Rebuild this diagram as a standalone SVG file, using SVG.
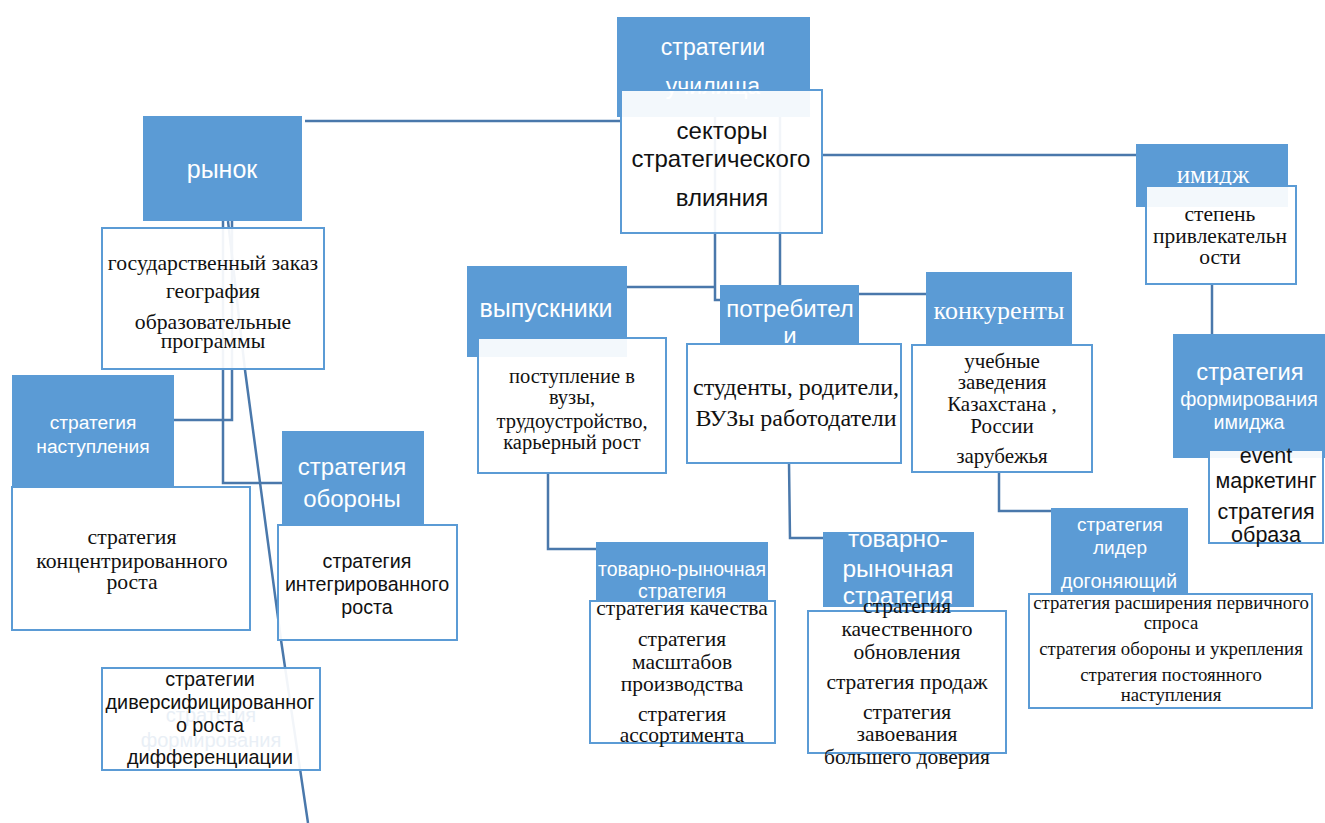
<svg xmlns="http://www.w3.org/2000/svg" width="1325" height="823" viewBox="0 0 1325 823">
<style>
.blue{fill:#5b9bd5}
.box{fill:#fff;fill-opacity:0.93;stroke:#5b9bd5;stroke-width:2}
.conn{stroke:#4a78ab;stroke-width:2.5;fill:none}
.wt{fill:#fff;font-family:"Liberation Sans",Arial,sans-serif;text-anchor:middle}
.ws{fill:#fff;font-family:"Liberation Serif","Times New Roman",serif;text-anchor:middle}
.bs{fill:#111;font-family:"Liberation Sans",Arial,sans-serif;text-anchor:middle}
.st{fill:#111;font-family:"Liberation Serif","Times New Roman",serif;text-anchor:middle}
.ghost{fill:#e9eff6;font-family:"Liberation Sans",Arial,sans-serif;text-anchor:middle}
</style>
<rect width="1325" height="823" fill="#fff"/>
<g id="connectors">
<polyline class="conn" points="305,121 621,121"/>
<polyline class="conn" points="822,155 1136,155"/>
<polyline class="conn" points="715,100 715,300 721,300"/>
<polyline class="conn" points="627,287 715,287"/>
<polyline class="conn" points="780,100 780,285"/>
<polyline class="conn" points="859,294 926,294"/>
<polyline class="conn" points="232,221 232,420 174,420"/>
<polyline class="conn" points="223,221 223,483 282,483"/>
<polyline class="conn" points="228,221 245,370 281,640 308,823"/>
<polyline class="conn" points="548,473 548,549 596,549"/>
<polyline class="conn" points="789,463 790,538 823,538"/>
<polyline class="conn" points="999,472 999,511 1051,511"/>
<polyline class="conn" points="1212,284 1212,334"/>
</g>
<g id="strategii-uchilishcha">
<rect class="blue" x="617" y="17" width="193" height="100"/>
<text class="wt" x="713" y="55" font-size="23">стратегии</text>
<text class="wt" x="713" y="94" font-size="23">училища</text>
</g>
<g id="sektory">
<rect class="box" x="621" y="90" width="201" height="143"/>
<text class="bs" x="722" y="139" font-size="24">секторы</text>
<text class="bs" x="721" y="167" font-size="24">стратегического</text>
<text class="bs" x="722" y="206" font-size="24">влияния</text>
</g>
<g id="rynok">
<rect class="blue" x="143" y="116" width="159" height="105"/>
<text class="wt" x="222" y="178" font-size="25">рынок</text>
</g>
<g id="rynok-detail">
<rect class="box" x="102" y="228" width="222" height="141"/>
<text class="st" x="213" y="270" font-size="21.7">государственный заказ</text>
<text class="st" x="213" y="298" font-size="21.7">география</text>
<text class="st" x="213" y="329" font-size="21.7">образовательные</text>
<text class="st" x="213" y="348" font-size="21.7">программы</text>
</g>
<g id="nastupleniya">
<rect class="blue" x="12" y="375" width="162" height="113"/>
<text class="wt" x="93" y="429" font-size="19.2">стратегия</text>
<text class="wt" x="93" y="453" font-size="19.2">наступления</text>
</g>
<g id="koncentr">
<rect class="box" x="12" y="487" width="238" height="143"/>
<text class="st" x="132" y="544" font-size="21.7">стратегия</text>
<text class="st" x="132" y="568" font-size="21.7">концентрированного</text>
<text class="st" x="132" y="589" font-size="21.7">роста</text>
</g>
<g id="oborony">
<rect class="blue" x="282" y="431" width="142" height="94"/>
<text class="wt" x="352" y="475" font-size="24">стратегия</text>
<text class="wt" x="352" y="507" font-size="24">обороны</text>
</g>
<g id="integr">
<rect class="box" x="278" y="525" width="179" height="115"/>
<text class="bs" x="367" y="568" font-size="19.7">стратегия</text>
<text class="bs" x="367" y="591" font-size="19.7">интегрированного</text>
<text class="bs" x="367" y="614" font-size="19.7">роста</text>
</g>
<g id="diversif">
<rect class="box" x="102" y="668" width="218" height="102"/>
<text class="ghost" x="211" y="722" font-size="20">стратегия</text>
<text class="ghost" x="211" y="747" font-size="20">формирования</text>
<text class="bs" x="210" y="686" font-size="19.8">стратегии</text>
<text class="bs" x="210" y="709" font-size="19.8">диверсифицированног</text>
<text class="bs" x="210" y="732" font-size="19.8">о роста</text>
<text class="bs" x="210" y="764" font-size="19.8">дифференциации</text>
</g>
<g id="vypuskniki">
<rect class="blue" x="467" y="266" width="160" height="91"/>
<text class="wt" x="546" y="317" font-size="25">выпускники</text>
</g>
<g id="vypuskniki-detail">
<rect class="box" x="478" y="338" width="188" height="135"/>
<text class="st" x="572" y="383" font-size="20.5">поступление в</text>
<text class="st" x="572" y="404" font-size="20.5">вузы,</text>
<text class="st" x="572" y="428" font-size="20.5">трудоустройство,</text>
<text class="st" x="572" y="449" font-size="20.5">карьерный рост</text>
</g>
<g id="potrebiteli">
<rect class="blue" x="720" y="285" width="139" height="60"/>
<text class="wt" x="790" y="317" font-size="24">потребител</text>
<text class="wt" x="790" y="344" font-size="24">и</text>
</g>
<g id="potrebiteli-detail">
<rect class="box" x="687" y="344" width="214" height="119"/>
<text class="st" x="796" y="395" font-size="24">студенты, родители,</text>
<text class="st" x="796" y="426" font-size="24">ВУЗы работодатели</text>
</g>
<g id="konkurenty">
<rect class="blue" x="926" y="272" width="146" height="73"/>
<text class="ws" x="999" y="319" font-size="26">конкуренты</text>
</g>
<g id="konkurenty-detail">
<rect class="box" x="912" y="345" width="180" height="127"/>
<text class="st" x="1002" y="368" font-size="21">учебные</text>
<text class="st" x="1002" y="389" font-size="21">заведения</text>
<text class="st" x="1002" y="411" font-size="21">Казахстана ,</text>
<text class="st" x="1002" y="433" font-size="21">России</text>
<text class="st" x="1002" y="463" font-size="21">зарубежья</text>
</g>
<g id="imidzh">
<rect class="blue" x="1136" y="144" width="152" height="63"/>
<text class="ws" x="1213" y="183" font-size="25">имидж</text>
</g>
<g id="imidzh-detail">
<rect class="box" x="1146" y="186" width="150" height="98"/>
<text class="st" x="1220" y="221" font-size="21.5">степень</text>
<text class="st" x="1220" y="243" font-size="21.5">привлекательн</text>
<text class="st" x="1220" y="264" font-size="21.5">ости</text>
</g>
<g id="formirovaniya">
<rect class="blue" x="1173" y="334" width="152" height="124"/>
<text class="wt" x="1250" y="380" font-size="23.8">стратегия</text>
<text class="wt" x="1249" y="406" font-size="19.6">формирования</text>
<text class="wt" x="1249" y="429" font-size="19.6">имиджа</text>
</g>
<g id="event">
<rect class="box" x="1209" y="450" width="114" height="93"/>
<text class="bs" x="1266" y="463" font-size="21.5">event</text>
<text class="bs" x="1266" y="488" font-size="21.5">маркетинг</text>
<text class="bs" x="1266" y="519" font-size="21.5">стратегия</text>
<text class="bs" x="1266" y="542" font-size="21.5">образа</text>
</g>
<g id="lider">
<rect class="blue" x="1051" y="508" width="137" height="85"/>
<text class="wt" x="1120" y="531" font-size="19">стратегия</text>
<text class="wt" x="1120" y="554" font-size="19">лидер</text>
<text class="wt" x="1119" y="588" font-size="20">догоняющий</text>
</g>
<g id="lider-detail">
<rect class="box" x="1029" y="594" width="283" height="114"/>
<text class="st" x="1171" y="609" font-size="18.8">стратегия расширения первичного</text>
<text class="st" x="1171" y="629" font-size="18.8">спроса</text>
<text class="st" x="1171" y="655" font-size="18.8">стратегия обороны и укрепления</text>
<text class="st" x="1171" y="681" font-size="18.8">стратегия постоянного</text>
<text class="st" x="1171" y="701" font-size="18.8">наступления</text>
</g>
<g id="tovarno1">
<rect class="blue" x="596" y="542" width="172" height="60"/>
<text class="wt" x="682" y="576" font-size="19.5">товарно-рыночная</text>
<text class="wt" x="682" y="598" font-size="19.5">стратегия</text>
</g>
<g id="tovarno1-detail">
<rect class="box" x="590" y="601" width="185" height="142"/>
<text class="st" x="682" y="615" font-size="21.5">стратегия качества</text>
<text class="st" x="682" y="646" font-size="21.5">стратегия</text>
<text class="st" x="682" y="669" font-size="21.5">масштабов</text>
<text class="st" x="682" y="691" font-size="21.5">производства</text>
<text class="st" x="682" y="721" font-size="21.5">стратегия</text>
<text class="st" x="682" y="742" font-size="21.5">ассортимента</text>
</g>
<g id="tovarno2">
<rect class="blue" x="823" y="532" width="151" height="75"/>
<text class="wt" x="898" y="547" font-size="24.5">товарно-</text>
<text class="wt" x="898" y="577" font-size="24.5">рыночная</text>
<text class="wt" x="898" y="604" font-size="24.5">стратегия</text>
</g>
<g id="tovarno2-detail">
<rect class="box" x="808" y="611" width="198" height="142"/>
<text class="st" x="907" y="613" font-size="21.5">стратегия</text>
<text class="st" x="907" y="636" font-size="21.5">качественного</text>
<text class="st" x="907" y="659" font-size="21.5">обновления</text>
<text class="st" x="907" y="689" font-size="21.5">стратегия продаж</text>
<text class="st" x="907" y="719" font-size="21.5">стратегия</text>
<text class="st" x="907" y="741" font-size="21.5">завоевания</text>
<text class="st" x="907" y="764" font-size="21.5">большего доверия</text>
</g>
</svg>
